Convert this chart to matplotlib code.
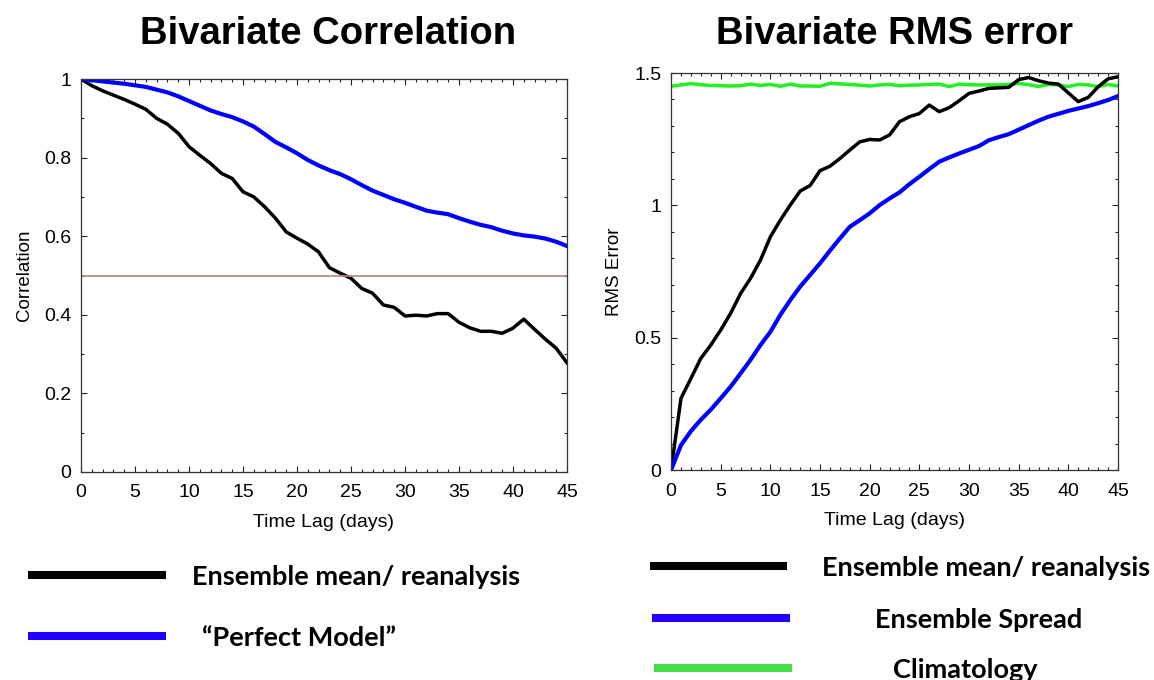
import matplotlib
matplotlib.use('Agg')
import matplotlib.pyplot as plt
from matplotlib.lines import Line2D
from matplotlib.ticker import MultipleLocator, FormatStrFormatter
import numpy as np

plt.rcParams['font.family'] = ['Liberation Sans', 'DejaVu Sans']

# time lag (days)
dias = list(range(46))

# correlacao
corr_ens = [1.000, 0.983, 0.970, 0.959, 0.948, 0.936, 0.923, 0.900, 0.885, 0.862,
            0.828, 0.806, 0.785, 0.760, 0.747, 0.713, 0.700, 0.675, 0.646, 0.611,
            0.595, 0.580, 0.560, 0.520, 0.506, 0.493, 0.467, 0.455, 0.425, 0.419,
            0.397, 0.399, 0.397, 0.403, 0.403, 0.381, 0.367, 0.358, 0.358, 0.353,
            0.366, 0.389, 0.363, 0.338, 0.315, 0.278]
corr_perf = [1.000, 0.997, 0.994, 0.991, 0.988, 0.984, 0.980, 0.973, 0.966, 0.956,
             0.944, 0.932, 0.920, 0.911, 0.903, 0.892, 0.879, 0.860, 0.840, 0.826,
             0.811, 0.794, 0.780, 0.768, 0.758, 0.745, 0.730, 0.716, 0.705, 0.694,
             0.685, 0.675, 0.665, 0.660, 0.656, 0.646, 0.637, 0.629, 0.623, 0.614,
             0.607, 0.602, 0.599, 0.594, 0.586, 0.575]
corr_ref = 0.5

# rms error
rms_ens = [0.000, 0.271, 0.346, 0.422, 0.472, 0.529, 0.592, 0.667, 0.724, 0.793,
           0.881, 0.944, 1.001, 1.054, 1.075, 1.131, 1.148, 1.177, 1.209, 1.240,
           1.249, 1.247, 1.266, 1.316, 1.335, 1.347, 1.379, 1.354, 1.369, 1.395,
           1.423, 1.432, 1.442, 1.444, 1.446, 1.475, 1.483, 1.471, 1.462, 1.458,
           1.425, 1.392, 1.408, 1.448, 1.478, 1.486]
rms_spread = [0.000, 0.094, 0.147, 0.190, 0.228, 0.271, 0.315, 0.365, 0.416, 0.472,
              0.522, 0.586, 0.642, 0.693, 0.737, 0.781, 0.829, 0.875, 0.919, 0.944,
              0.970, 1.001, 1.026, 1.049, 1.080, 1.108, 1.137, 1.165, 1.181, 1.196,
              1.210, 1.224, 1.246, 1.258, 1.269, 1.286, 1.303, 1.320, 1.335, 1.346,
              1.357, 1.366, 1.375, 1.386, 1.398, 1.413]
rms_clim = [1.450, 1.455, 1.460, 1.456, 1.453, 1.452, 1.451, 1.452, 1.458, 1.453,
            1.457, 1.450, 1.458, 1.451, 1.451, 1.450, 1.461, 1.459, 1.457, 1.454,
            1.451, 1.455, 1.457, 1.452, 1.454, 1.455, 1.457, 1.458, 1.449, 1.458,
            1.456, 1.455, 1.455, 1.455, 1.457, 1.461, 1.456, 1.449, 1.457, 1.455,
            1.449, 1.457, 1.455, 1.449, 1.457, 1.451]

fig = plt.figure(figsize=(11.54, 6.8), dpi=100)

ax1 = fig.add_axes([0.0702, 0.3059, 0.4211, 0.5779])
ax2 = fig.add_axes([0.5815, 0.3088, 0.3873, 0.5838])

def arruma(ax, ymax, ymaj, ylabel):
    ax.set_xlim(0, 45)
    ax.set_ylim(0, ymax)
    ax.xaxis.set_major_locator(MultipleLocator(5))
    ax.xaxis.set_minor_locator(MultipleLocator(1))
    ax.yaxis.set_major_locator(MultipleLocator(ymaj))
    ax.yaxis.set_minor_locator(MultipleLocator(0.1))
    ax.yaxis.set_major_formatter(FormatStrFormatter('%g'))
    ax.tick_params(which='both', direction='in', top=True, right=True,
                   labelsize=14, width=0.8, color='#222222')
    ax.tick_params(axis='x', pad=9)
    ax.tick_params(axis='y', pad=7)
    ax.tick_params(which='major', length=4)
    ax.tick_params(which='minor', length=2)
    for s in ax.spines.values():
        s.set_linewidth(0.9)
        s.set_color('#333333')
    ax.set_xlabel('Time Lag (days)', fontsize=14, labelpad=9)
    ax.set_ylabel(ylabel, fontsize=13.5, labelpad=8)

ax1.plot(dias, corr_ens, color='black', lw=2.5)
ax1.plot(dias, corr_perf, color='#0000ff', lw=3)
ax1.axhline(corr_ref, color='#b98484', lw=1.2)
arruma(ax1, 1, 0.2, 'Correlation')

ax2.plot(dias, rms_clim, color='#22ee22', lw=2.5)
ax2.plot(dias, rms_ens, color='black', lw=2.5)
ax2.plot(dias, rms_spread, color='#0000ff', lw=3)
arruma(ax2, 1.5, 0.5, 'RMS Error')

W, H = 1154.0, 680.0
fig.text(328 / W, 1 - 44 / H, 'Bivariate Correlation', fontsize=27.5, weight='bold',
         ha='center', va='baseline')
fig.text(895 / W, 1 - 44 / H, 'Bivariate RMS error', fontsize=27.5, weight='bold',
         ha='center', va='baseline')

# legendas feitas na mao
leg = [
    (28, 166, 575, 'black', 192, 'Ensemble mean/ reanalysis'),
    (28, 166, 636, '#2200ff', 202, '\u201cPerfect Model\u201d'),
    (650, 787, 566, 'black', 822, 'Ensemble mean/ reanalysis'),
    (652, 790, 618, '#2200ff', 875, 'Ensemble Spread'),
    (654, 792, 668, '#44dd44', 893, 'Climatology'),
]
for x0, x1, y, cor, xt, txt in leg:
    fig.add_artist(Line2D([x0 / W, x1 / W], [1 - y / H, 1 - y / H], color=cor,
                          lw=5.8, solid_capstyle='butt', transform=fig.transFigure))
    fig.text(xt / W, 1 - (y + 2) / H, txt, fontsize=19.5, weight='bold',
             family=['Lato', 'DejaVu Sans'], ha='left', va='center')

fig.savefig('out.png', dpi=100)
